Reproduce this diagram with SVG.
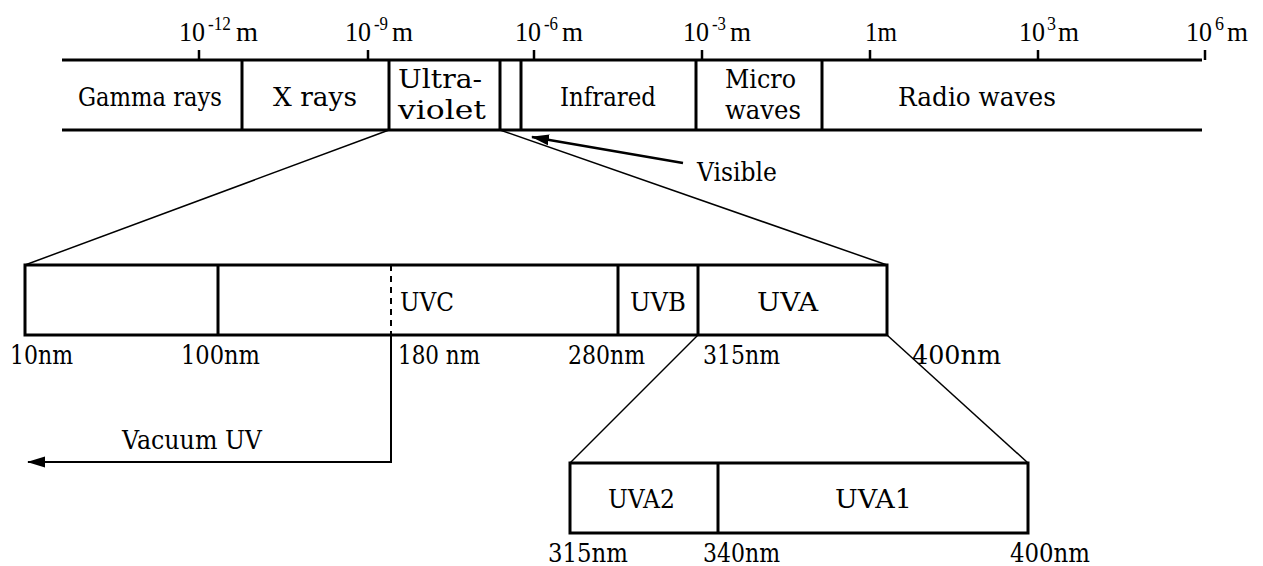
<svg xmlns="http://www.w3.org/2000/svg" width="1263" height="566" viewBox="0 0 1263 566">
<style>
text{font-family:"DejaVu Serif","Liberation Serif",serif;font-size:26px;fill:#000}
.n{font-family:"Liberation Serif","DejaVu Serif",serif;font-size:27px}
.sup{font-family:"Liberation Serif","DejaVu Serif",serif;font-size:18px}
.box{fill:none;stroke:#000;stroke-width:3}
.thin{fill:none;stroke:#000;stroke-width:1.5}
.tick{stroke:#000;stroke-width:2.5}
</style>
<defs>
<marker id="ah" markerWidth="18" markerHeight="14" refX="17" refY="7" orient="auto" markerUnits="userSpaceOnUse">
<path d="M0,1.5 L18,7 L0,12.5 Z" fill="#000"/>
</marker>
</defs>
<rect width="1263" height="566" fill="#fff"/>
<g id="scale">
<line class="tick" x1="199" y1="50" x2="199" y2="60"/>
<line class="tick" x1="368" y1="50" x2="368" y2="60"/>
<line class="tick" x1="534" y1="50" x2="534" y2="60"/>
<line class="tick" x1="702" y1="50" x2="702" y2="60"/>
<line class="tick" x1="870" y1="50" x2="870" y2="60"/>
<line class="tick" x1="1038" y1="50" x2="1038" y2="60"/>
<line class="tick" x1="1205" y1="50" x2="1205" y2="60"/>
<text class="n" x="179" y="41" textLength="26" lengthAdjust="spacingAndGlyphs">10</text>
<text class="sup" x="208" y="30" textLength="23" lengthAdjust="spacingAndGlyphs">-12</text>
<text class="n" x="236" y="41" textLength="22" lengthAdjust="spacingAndGlyphs">m</text>
<text class="n" x="345" y="41" textLength="26" lengthAdjust="spacingAndGlyphs">10</text>
<text class="sup" x="374" y="30" textLength="14" lengthAdjust="spacingAndGlyphs">-9</text>
<text class="n" x="392" y="41" textLength="21" lengthAdjust="spacingAndGlyphs">m</text>
<text class="n" x="515" y="41" textLength="26" lengthAdjust="spacingAndGlyphs">10</text>
<text class="sup" x="544" y="30" textLength="14" lengthAdjust="spacingAndGlyphs">-6</text>
<text class="n" x="562" y="41" textLength="21" lengthAdjust="spacingAndGlyphs">m</text>
<text class="n" x="683" y="41" textLength="26" lengthAdjust="spacingAndGlyphs">10</text>
<text class="sup" x="712" y="30" textLength="14" lengthAdjust="spacingAndGlyphs">-3</text>
<text class="n" x="730" y="41" textLength="21" lengthAdjust="spacingAndGlyphs">m</text>
<text class="n" x="865" y="41" textLength="32" lengthAdjust="spacingAndGlyphs">1m</text>
<text class="n" x="1019" y="41" textLength="26" lengthAdjust="spacingAndGlyphs">10</text>
<text class="sup" x="1047" y="30" textLength="9" lengthAdjust="spacingAndGlyphs">3</text>
<text class="n" x="1058" y="41" textLength="21" lengthAdjust="spacingAndGlyphs">m</text>
<text class="n" x="1186" y="41" textLength="26" lengthAdjust="spacingAndGlyphs">10</text>
<text class="sup" x="1215" y="30" textLength="9" lengthAdjust="spacingAndGlyphs">6</text>
<text class="n" x="1227" y="41" textLength="21" lengthAdjust="spacingAndGlyphs">m</text>
</g>
<g id="spectrum">
<line class="box" x1="62" y1="60" x2="1202" y2="60"/>
<line class="box" x1="62" y1="130" x2="1202" y2="130"/>
</g>
<g id="gamma">
<text x="78" y="106" textLength="144" lengthAdjust="spacingAndGlyphs">Gamma rays</text>
</g>
<g id="xrays">
<line class="box" x1="242" y1="60" x2="242" y2="130"/>
<text x="273" y="106" textLength="84" lengthAdjust="spacingAndGlyphs">X rays</text>
</g>
<g id="ultraviolet">
<line class="box" x1="389" y1="60" x2="389" y2="130"/>
<text x="398" y="88" textLength="84" lengthAdjust="spacingAndGlyphs">Ultra-</text>
<text x="398" y="119" textLength="88" lengthAdjust="spacingAndGlyphs">violet</text>
</g>
<g id="visible">
<line class="box" x1="500" y1="60" x2="500" y2="130"/>
<line class="box" x1="521" y1="60" x2="521" y2="130"/>
<text x="697" y="181" textLength="80" lengthAdjust="spacingAndGlyphs">Visible</text>
</g>
<g id="infrared">
<text x="560" y="106" textLength="96" lengthAdjust="spacingAndGlyphs">Infrared</text>
</g>
<g id="microwaves">
<line class="box" x1="696" y1="60" x2="696" y2="130"/>
<text x="725" y="88" textLength="71" lengthAdjust="spacingAndGlyphs">Micro</text>
<text x="725" y="119" textLength="76" lengthAdjust="spacingAndGlyphs">waves</text>
</g>
<g id="radio">
<line class="box" x1="822" y1="60" x2="822" y2="130"/>
<text x="898" y="106" textLength="158" lengthAdjust="spacingAndGlyphs">Radio waves</text>
</g>
<g id="uvbox">
<rect class="box" x="25" y="265" width="862" height="70"/>
<line class="box" x1="218" y1="265" x2="218" y2="335"/>
<line x1="391" y1="265" x2="391" y2="335" stroke="#000" stroke-width="2" stroke-dasharray="6,5"/>
<line class="box" x1="618" y1="265" x2="618" y2="335"/>
<line class="box" x1="698" y1="265" x2="698" y2="335"/>
<text x="400" y="311" textLength="54" lengthAdjust="spacingAndGlyphs">UVC</text>
<text x="630" y="311" textLength="56" lengthAdjust="spacingAndGlyphs">UVB</text>
<text x="757" y="311" textLength="61" lengthAdjust="spacingAndGlyphs">UVA</text>
<text x="10" y="364" textLength="63" lengthAdjust="spacingAndGlyphs">10nm</text>
<text x="181" y="364" textLength="79" lengthAdjust="spacingAndGlyphs">100nm</text>
<text x="398" y="364" textLength="82" lengthAdjust="spacingAndGlyphs">180 nm</text>
<text x="568" y="364" textLength="77" lengthAdjust="spacingAndGlyphs">280nm</text>
<text x="703" y="364" textLength="77" lengthAdjust="spacingAndGlyphs">315nm</text>
<text x="912" y="364" textLength="89" lengthAdjust="spacingAndGlyphs">400nm</text>
</g>
<g id="vacuum">
<text x="122" y="449" textLength="140" lengthAdjust="spacingAndGlyphs">Vacuum UV</text>
</g>
<g id="uvabox">
<rect class="box" x="570" y="463" width="458" height="70"/>
<line class="box" x1="718" y1="463" x2="718" y2="533"/>
<text x="608" y="508" textLength="67" lengthAdjust="spacingAndGlyphs">UVA2</text>
<text x="835" y="508" textLength="77" lengthAdjust="spacingAndGlyphs">UVA1</text>
<text x="548" y="562" textLength="80" lengthAdjust="spacingAndGlyphs">315nm</text>
<text x="703" y="562" textLength="77" lengthAdjust="spacingAndGlyphs">340nm</text>
<text x="1010" y="562" textLength="80" lengthAdjust="spacingAndGlyphs">400nm</text>
</g>
<g id="connectors">
<line class="thin" x1="389" y1="130" x2="25" y2="265"/>
<line class="thin" x1="500" y1="130" x2="887" y2="265"/>
<line class="thin" x1="698" y1="335" x2="570" y2="463"/>
<line class="thin" x1="887" y1="335" x2="1028" y2="463"/>
<line x1="683" y1="163" x2="532" y2="137" stroke="#000" stroke-width="2.5" marker-end="url(#ah)"/>
<polyline points="391,335 391,462 28,462" fill="none" stroke="#000" stroke-width="2" marker-end="url(#ah)"/>
</g>
</svg>
